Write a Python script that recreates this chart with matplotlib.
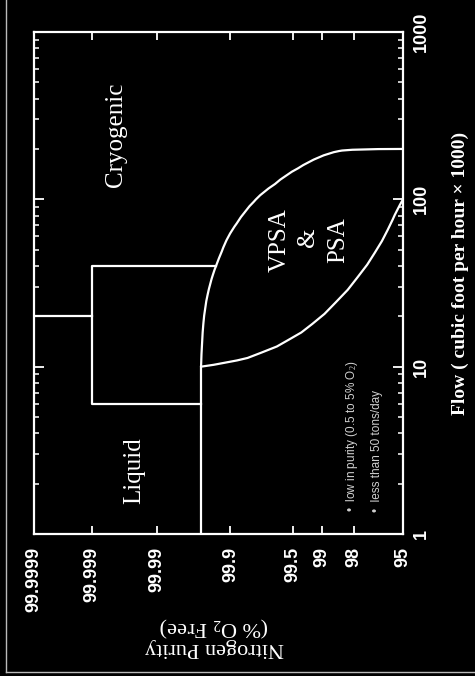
import numpy as np
import matplotlib
matplotlib.use("Agg")
import matplotlib.pyplot as plt
from matplotlib.lines import Line2D
from matplotlib.path import Path
from matplotlib.patches import PathPatch

# ---------------- data ----------------
purity_ticks = [99.9999, 99.999, 99.99, 99.9, 99.5, 99, 98, 95]
purity_tick_labels = ["99.9999", "99.999", "99.99", "99.9", "99.5", "99", "98", "95"]
flow_ticks = [1, 10, 100, 1000]
flow_tick_labels = ["1", "10", "100", "1000"]

# Liquid / Cryogenic divider at 20 (x1000 cfh)
divider_purity = [99.9999, 99.999]
divider_flow = [20, 20]

# transition box (liquid or cryogenic)
box_purity = [99.937, 99.999, 99.999, 99.96]
box_flow = [40, 40, 6, 6]

# right edge of the liquid region
liquid_edge_purity = [99.96, 99.96]
liquid_edge_flow = [1, 10]

# VPSA & PSA region, upper boundary
upper_purity = [99.96, 99.959, 99.955, 99.947, 99.937, 99.91, 99.855, 99.78,
                99.59, 99.28, 98.86, 98.24, 95.0]
upper_flow = [10, 14.4, 22.8, 31.6, 40, 60, 86, 109, 140, 168, 189, 200, 200]

# VPSA & PSA region, lower boundary
lower_purity = [99.96, 99.91, 99.78, 99.56, 99.22, 98.67, 97.84, 97.04,
                96.22, 95.56, 95.0]
lower_flow = [10, 10.5, 12.1, 14.4, 17.8, 24, 34.5, 48, 66, 86, 100]

# ---------------- purity scale of the hand-drawn chart ----------------
# roughly logarithmic in impurity (100 - purity), with uneven decades;
# fraction of the axis width (from the 95 end) for each tick:
knot_frac = 1.0 - np.array([0.0, 0.1572, 0.3320, 0.5325, 0.7019, 0.7805, 0.8672, 1.0])
knot_L = np.log10(100.0 - np.array(purity_ticks, dtype=float))
s0 = (knot_frac[1] - knot_frac[0]) / (knot_L[1] - knot_L[0])
s1 = (knot_frac[-1] - knot_frac[-2]) / (knot_L[-1] - knot_L[-2])
kL = np.concatenate([[knot_L[0] - 20], knot_L, [knot_L[-1] + 20]])
kF = np.concatenate([[knot_frac[0] - 20 * s0], knot_frac, [knot_frac[-1] + 20 * s1]])
nL = -kL[::-1]
nF = kF[::-1]


def fwd(p):
    p = np.asarray(p, dtype=float)
    d = np.clip(100.0 - p, 1e-15, None)
    return np.interp(-np.log10(d), nL, nF)


def inv(f):
    f = np.asarray(f, dtype=float)
    return 100.0 - 10 ** (-np.interp(f, nF, nL))


def smooth_path(xs, ys):
    """Quadratic-Bezier path through the midpoints of the read vertices."""
    pts = list(zip(xs, ys))
    verts = [pts[0]]
    codes = [Path.MOVETO]
    n = len(pts)
    for i in range(1, n - 1):
        mid = ((pts[i][0] + pts[i + 1][0]) / 2, np.sqrt(pts[i][1] * pts[i + 1][1]))
        if i == n - 2:
            mid = pts[i + 1]
        verts += [pts[i], mid]
        codes += [Path.CURVE3, Path.CURVE3]
    return Path(verts, codes)


plt.rcParams["mathtext.fontset"] = "custom"
plt.rcParams["mathtext.rm"] = "Liberation Serif"
plt.rcParams["mathtext.it"] = "Liberation Serif:italic"
plt.rcParams["mathtext.bf"] = "Liberation Serif:bold"

W, H = 475, 676
fig = plt.figure(figsize=(W / 100, H / 100), dpi=100, facecolor="black")
ax = fig.add_axes([34 / W, 1 - 534 / H, 369 / W, 502 / H], facecolor="black")

ax.set_xscale("function", functions=(fwd, inv))
ax.set_yscale("log")

lc = "white"
lw = 1.6
ax.plot(divider_purity, divider_flow, color=lc, lw=lw)
ax.plot(box_purity, box_flow, color=lc, lw=lw)
ax.plot(liquid_edge_purity, liquid_edge_flow, color=lc, lw=lw)
for xs, ys in [(upper_purity, upper_flow), (lower_purity, lower_flow)]:
    ax.add_patch(PathPatch(smooth_path(xs, ys), fill=False, edgecolor=lc,
                           lw=lw, transform=ax.transData, capstyle="round"))

for sp in ax.spines.values():
    sp.set_color(lc)
    sp.set_linewidth(1.6)

# purity ticks (horizontal axis, bottom + top)
ax.set_xticks(purity_ticks)
ax.set_xticklabels(purity_tick_labels, rotation=90, fontfamily="Liberation Sans",
                   fontweight="bold", fontsize=13, color="white")
ax.xaxis.set_minor_locator(matplotlib.ticker.NullLocator())
ax.tick_params(axis="x", which="major", direction="in", top=True, bottom=True,
               length=6, width=1.3, color=lc, pad=9.5)
ax.set_xlim(99.9999, 95)

# flow ticks (vertical axis, left + right, labels on right)
ax.set_yticks(flow_ticks)
ax.set_yticklabels(flow_tick_labels, fontfamily="Liberation Sans",
                   fontweight="bold", fontsize=13, color="white")
ax.yaxis.set_minor_locator(matplotlib.ticker.LogLocator(base=10, subs=np.arange(2, 10)))
ax.yaxis.set_minor_formatter(matplotlib.ticker.NullFormatter())
ax.tick_params(axis="y", which="both", direction="in", left=True, right=True,
               labelleft=False, labelright=True, color=lc, labelrotation=90)
ax.tick_params(axis="y", which="major", length=7, width=1.3, pad=7)
ax.tick_params(axis="y", which="minor", length=3.5, width=1.1)
for t in ax.get_yticklabels():
    t.set_ha("left")
    t.set_va("center")
ax.set_ylim(1, 1000)

# region labels
serif = "Liberation Serif"
ax.text(0.222, 0.795, "Cryogenic", rotation=90, ha="center", va="center",
        fontfamily=serif, fontsize=18, color="white", transform=ax.transAxes)
ax.text(0.271, 0.1255, "Liquid", rotation=90, ha="center", va="center",
        fontfamily=serif, fontsize=18, color="white", transform=ax.transAxes)
ax.text(0.6656, 0.5857, "VPSA", rotation=90, ha="center", va="center",
        fontfamily=serif, fontsize=18, color="white", transform=ax.transAxes)
ax.text(0.7425, 0.592, "&", rotation=90, ha="center", va="center",
        fontfamily=serif, fontsize=18, color="white", transform=ax.transAxes)
ax.text(0.8252, 0.5857, "PSA", rotation=90, ha="center", va="center",
        fontfamily=serif, fontsize=18, color="white", transform=ax.transAxes)

# notes
note_font = ["Liberation Sans Narrow", "Liberation Sans", "DejaVu Sans"]
ax.text(0.862, 0.044, "\u2022  low in purity (0.5 to 5% O$_2$)", rotation=90,
        ha="center", va="bottom", fontfamily=note_font, fontsize=8.5,
        color="#d0d0d0", transform=ax.transAxes)
ax.text(0.93, 0.044, "\u2022  less than 50 tons/day", rotation=90,
        ha="center", va="bottom", fontfamily=note_font, fontsize=8.5,
        color="#d0d0d0", transform=ax.transAxes)

# axis titles
ax.text((460 - 34) / 369, (534 - 273) / 502,
        "Flow ( cubic foot per hour \u00d7 1000)", rotation=90,
        ha="center", va="center", fontfamily=serif, fontweight="bold",
        fontsize=14, color="white", transform=ax.transAxes)
ax.text((214 - 34) / 369, (534 - 636) / 502,
        "Nitrogen Purity\n(% O$_2$ Free)", rotation=180, ha="center",
        va="center", multialignment="center", fontfamily=serif,
        fontsize=16, color="white", linespacing=1.05, transform=ax.transAxes)

# faint page edge of the scan
fig.add_artist(Line2D([6 / W, 6 / W], [1 - 672 / H, 1.0], color="#bbbbbb",
                      lw=1.0, transform=fig.transFigure))
fig.add_artist(Line2D([6 / W, 1.0], [1 - 672 / H, 1 - 672 / H], color="#bbbbbb",
                      lw=1.0, transform=fig.transFigure))

fig.savefig("out.png", dpi=100, facecolor="black")
